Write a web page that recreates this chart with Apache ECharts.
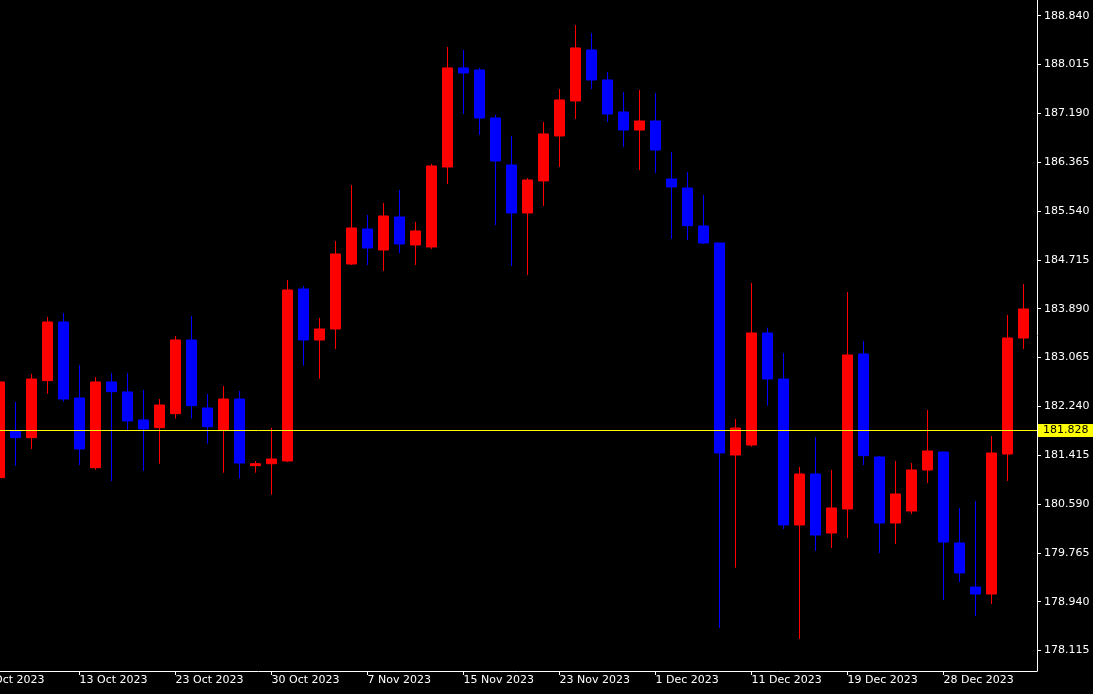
<!DOCTYPE html>
<html>
<head>
<meta charset="utf-8">
<style>
html,body{margin:0;padding:0;background:#000;}
#chart{width:1093px;height:694px;}
</style>
<script src="https://cdn.jsdelivr.net/npm/echarts@6/dist/echarts.min.js"></script>
</head>
<body>
<div id="chart"></div>
<script>
// Daily bars (index 0 has no visible candle, only its date label)
const dates = [
  '5 Oct 2023','6 Oct 2023','9 Oct 2023','10 Oct 2023','11 Oct 2023','12 Oct 2023','13 Oct 2023',
  '16 Oct 2023','17 Oct 2023','18 Oct 2023','19 Oct 2023','20 Oct 2023','23 Oct 2023','24 Oct 2023',
  '25 Oct 2023','26 Oct 2023','27 Oct 2023','29 Oct 2023','30 Oct 2023','31 Oct 2023','1 Nov 2023',
  '2 Nov 2023','3 Nov 2023','6 Nov 2023','7 Nov 2023','8 Nov 2023','9 Nov 2023','10 Nov 2023',
  '13 Nov 2023','14 Nov 2023','15 Nov 2023','16 Nov 2023','17 Nov 2023','20 Nov 2023','21 Nov 2023',
  '22 Nov 2023','23 Nov 2023','24 Nov 2023','27 Nov 2023','28 Nov 2023','29 Nov 2023','30 Nov 2023',
  '1 Dec 2023','4 Dec 2023','5 Dec 2023','6 Dec 2023','7 Dec 2023','8 Dec 2023','11 Dec 2023',
  '12 Dec 2023','13 Dec 2023','14 Dec 2023','15 Dec 2023','18 Dec 2023','19 Dec 2023','20 Dec 2023',
  '21 Dec 2023','22 Dec 2023','26 Dec 2023','27 Dec 2023','28 Dec 2023','29 Dec 2023','2 Jan 2024',
  '3 Jan 2024','4 Jan 2024','5 Jan 2024'
];
const opens = [null,
  181.035,181.824,181.711,182.674,183.665,182.381,181.204,182.652,182.483,182.010,
  181.880,182.116,183.361,182.212,181.841,182.364,181.238,181.271,181.317,184.223,
  183.361,183.547,184.645,185.237,184.882,185.439,184.966,184.932,186.284,187.957,
  187.923,187.112,186.318,185.507,186.048,186.808,187.399,188.261,187.754,187.213,
  186.909,187.061,186.081,185.929,185.287,185.000,181.418,181.587,183.480,182.702,
  180.236,181.097,180.100,180.506,183.125,181.385,180.269,180.472,181.165,181.469,
  179.932,179.188,179.070,181.435,183.395];
const closes = [null,
  182.652,181.711,182.702,183.665,182.364,181.520,182.652,182.488,181.993,181.858,
  182.263,183.361,182.251,181.896,182.364,181.283,181.271,181.351,184.206,183.361,
  183.547,184.814,185.253,184.916,185.456,184.983,185.203,186.301,187.957,187.872,
  187.112,186.385,185.507,186.064,186.842,187.416,188.295,187.754,187.180,186.909,
  187.061,186.571,185.946,185.292,185.000,181.452,181.874,183.480,182.702,180.236,
  181.097,180.067,180.523,183.108,181.407,180.269,180.759,181.165,181.486,179.948,
  179.425,179.070,181.452,183.395,183.885];
const lows = [null,
  181.035,181.238,181.520,182.454,182.319,181.249,181.170,180.979,181.841,181.148,
  181.271,182.032,182.032,181.609,181.119,181.018,181.119,180.748,181.300,182.927,
  182.707,183.209,184.628,184.628,184.527,184.831,184.628,184.899,185.997,187.180,
  186.825,185.304,184.611,184.459,185.625,186.284,187.095,187.602,187.044,186.622,
  186.233,186.183,185.068,185.051,184.983,178.495,179.514,181.559,182.251,180.168,
  178.310,179.796,179.847,180.016,181.249,179.763,179.915,180.422,180.945,178.969,
  179.273,178.698,178.901,180.979,183.209];
const highs = [null,
  182.652,182.314,182.787,183.750,183.817,182.939,182.736,182.804,182.804,182.516,
  182.364,183.429,183.767,182.449,182.584,182.500,181.317,181.880,184.375,184.274,
  183.733,185.034,185.980,185.473,185.676,185.895,185.355,186.335,188.311,188.261,
  187.957,187.163,186.808,186.098,187.044,187.602,188.683,188.548,187.889,187.551,
  187.585,187.534,186.538,186.200,185.811,185.000,182.026,184.324,183.569,183.142,
  181.216,181.722,181.165,184.172,183.344,181.401,181.317,181.283,182.179,181.469,
  180.523,180.641,181.739,183.784,184.307];
const dateLabelIdx = [0,6,12,18,24,30,36,42,48,54,60];
const priceTicks = [178.115,178.940,179.765,180.590,181.415,182.240,183.065,183.890,184.715,185.540,186.365,187.190,188.015,188.840];
const currentPrice = 181.828;

const rows = [];
for (let i = 0; i < dates.length; i++) {
  if (opens[i] == null) continue;
  rows.push([i, opens[i], closes[i], lows[i], highs[i]]);
}

const font = 'DejaVu Sans';
const chart = echarts.init(document.getElementById('chart'), null, {renderer: 'canvas'});
chart.setOption({
  backgroundColor: '#000000',
  animation: false,
  grid: {left: -24.5, right: 56, top: 0, bottom: 23, containLabel: false, outerBoundsMode: 'none'},
  xAxis: {
    type: 'value', min: -0.5, max: 65.84375,
    splitLine: {show: false},
    axisLine: {show: true, onZero: false, lineStyle: {color: '#ffffff', width: 1}},
    axisTick: {show: true, length: 4, customValues: dateLabelIdx, lineStyle: {color: '#ffffff'}},
    axisLabel: {
      customValues: dateLabelIdx,
      formatter: v => dates[Math.round(v)] || '',
      align: 'left', color: '#ffffff', fontFamily: font, fontSize: 11, lineHeight: 11, margin: 4
    }
  },
  yAxis: {
    type: 'value', position: 'right', min: 177.769, max: 189.105, scale: true,
    splitLine: {show: false},
    axisLine: {show: true, onZero: false, lineStyle: {color: '#ffffff', width: 1}},
    axisTick: {show: true, length: 4, customValues: priceTicks, lineStyle: {color: '#ffffff'}},
    axisLabel: {
      customValues: priceTicks,
      formatter: v => v.toFixed(3),
      color: '#ffffff', fontFamily: font, fontSize: 11, margin: 7
    }
  },
  series: [{
    type: 'candlestick',
    data: rows,
    barWidth: 10,
    itemStyle: {
      color: '#ff0000', color0: '#0000ff',
      borderColor: '#ff0000', borderColor0: '#0000ff', borderWidth: 1
    },
    markLine: {
      silent: true,
      symbol: ['none', 'none'],
      animation: false,
      lineStyle: {color: '#ffff00', width: 1, type: 'solid'},
      label: {
        show: true, position: 'end', distance: 1,
        formatter: () => currentPrice.toFixed(3),
        color: '#000000', backgroundColor: '#ffff00',
        padding: [1, 6, 1, 5], fontFamily: font, fontSize: 11, lineHeight: 11
      },
      emphasis: {disabled: true},
      data: [{yAxis: currentPrice}]
    }
  }]
});
</script>
</body>
</html>
